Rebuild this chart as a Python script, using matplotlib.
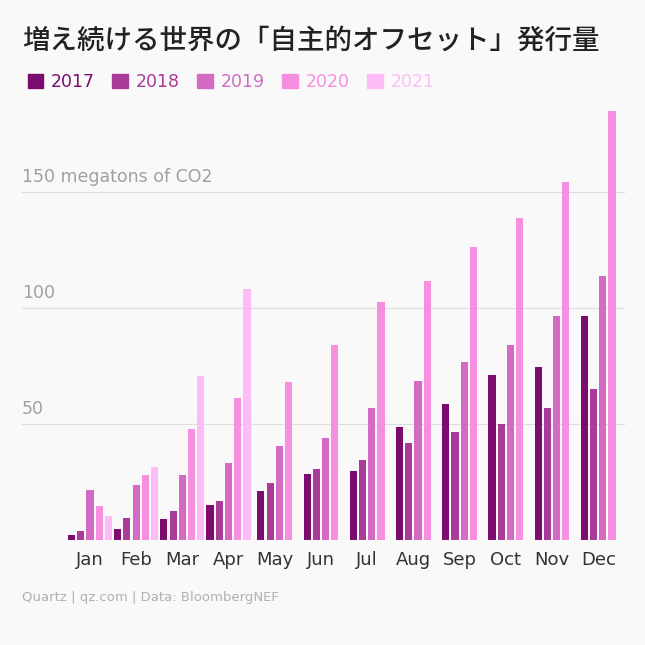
import matplotlib
matplotlib.use("Agg")
import matplotlib.pyplot as plt
from matplotlib.patches import Patch

months = ["Jan","Feb","Mar","Apr","May","Jun","Jul","Aug","Sep","Oct","Nov","Dec"]
years = ["2017","2018","2019","2020","2021"]
v2017 = [2, 4.7, 9, 15, 21, 28.4, 29.7, 48.7, 58.6, 71, 74.6, 96.5]
v2018 = [4, 9.5, 12.5, 17, 24.5, 30.6, 34.5, 42, 46.5, 50, 57, 65]
v2019 = [21.5, 23.7, 28, 33, 40.5, 44, 57, 68.5, 76.7, 84, 96.5, 114]
v2020 = [14.7, 28, 48, 61, 68, 84, 102.6, 111.6, 126.3, 138.8, 154.3, 185]
v2021 = [10.3, 31.5, 70.7, 108, None, None, None, None, None, None, None, None]
series = [v2017, v2018, v2019, v2020, v2021]
colors = ["#7b0b6f", "#a93b99", "#d36bc5", "#f78fe0", "#fdbcf6"]

bg = "#f9f9f9"
fig = plt.figure(figsize=(6.45, 6.45), dpi=100, facecolor=bg)
ax = fig.add_axes([22/645, 105/645, (625-22)/645, 440/645], facecolor=bg)
step, w = 0.2, 0.155
for i, m in enumerate(months):
    present = [k for k in range(5) if series[k][i] is not None]
    n = len(present)
    for j, k in enumerate(present):
        x = i + (j - (n-1)/2) * step
        ax.bar(x, series[k][i], width=w, color=colors[k], zorder=3)

ax.set_xlim(-1.47, 11.58)
ax.set_ylim(0, 440/2.32)
for y in [50, 100, 150]:
    ax.axhline(y, color="#dddddd", lw=0.8, zorder=1)
ax.axhline(0, color="#bbbbbb", lw=0.8, zorder=4)
for y, t in [(50, "50"), (100, "100"), (150, "150 megatons of CO2")]:
    ax.text(-1.47, y + 2.5, t, color="#a0a0a0", fontsize=12.5, va="bottom", ha="left")
ax.set_xticks(range(12))
ax.set_xticklabels(months, fontsize=13, color="#333333")
ax.tick_params(axis="x", length=0, pad=8)
ax.set_yticks([])
for s in ax.spines.values():
    s.set_visible(False)

fig.text(22/645, 1 - 40/645, "増え続ける世界の「自主的オフセット」発行量", fontsize=19.8,
         fontfamily="Noto Sans CJK JP", fontweight="medium", va="center", color="#222222")
handles = [Patch(color=c) for c in colors]
leg = fig.legend(handles, years, loc="center left", bbox_to_anchor=(12/645, 1 - 82/645), ncol=5,
                 frameon=False, fontsize=12.5, handlelength=0.9, handleheight=0.9,
                 handletextpad=0.45, columnspacing=1.0)
for t, c in zip(leg.get_texts(), colors):
    t.set_color(c)
fig.text(22/645, 1 - 598/645, "Quartz | qz.com | Data: BloombergNEF", fontsize=9.5, color="#b0b0b0", va="center")
fig.savefig("out.png", dpi=100, facecolor=bg)
